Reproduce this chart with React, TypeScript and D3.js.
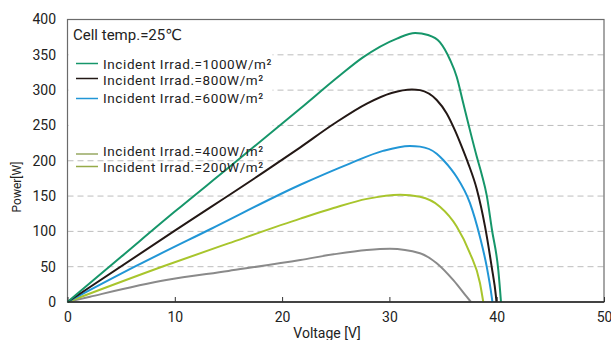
import { useEffect, useRef } from 'react';
import * as d3 from 'd3';

// values (voltage in V, power in W)
const v1000 = [0, 5, 10, 15, 21.7, 25.4, 27.5, 30.7, 32.4, 33.6, 34.7, 35.65, 36.27, 36.89, 37.51, 38.14, 38.6, 39.07, 39.55, 40.15, 40.4];
const p1000 = [0, 64, 128, 190, 274, 321, 346, 373, 381, 378, 368, 343, 319, 281, 243, 206, 181, 151, 103, 45, 0];

const v800 = [0, 10, 18.5, 21.7, 24.8, 27.9, 30.2, 32.1, 32.85, 34.41, 35.34, 36.11, 36.74, 37.35, 38.14, 38.91, 39.53, 39.93, 39.98];
const p800 = [0, 101, 186, 219, 252, 281, 296, 301, 300, 286, 267, 243, 220, 196, 160, 107, 50, 8, 0];

const v600 = [0, 6.4, 13.3, 21.7, 26.3, 29.4, 31.9, 32.85, 34.41, 35.02, 35.8, 36.27, 37.51, 38.44, 39.07, 39.53, 39.6];
const p600 = [0, 51, 103, 166, 196, 214, 221, 220, 210, 201, 187, 177, 140, 92, 50, 8, 0];

const v400 = [0, 9, 15, 21.7, 24.8, 27.9, 31.0, 32.85, 34.71, 36.27, 37.51, 38.44, 38.75];
const p400 = [0, 51, 83, 118, 133, 146, 152, 149, 135, 107, 69, 27, 0];

const v200 = [0, 2.1, 9.2, 15, 21.7, 24.8, 27.9, 30.05, 32.85, 34.41, 35.96, 37.2, 37.6];
const p200 = [0, 7.5, 31, 44, 59.5, 67.5, 73.7, 75.5, 69, 55, 31, 7.5, 0];

const xTicks = [0, 10, 20, 30, 40, 50];
const yTicks = [0, 50, 100, 150, 200, 250, 300, 350, 400];
const gridTicks = [50, 100, 150, 200, 250, 300, 350];

const series = [
  { label: 'Incident Irrad.=1000W/m²', v: v1000, p: p1000, color: '#16966a', legendColor: '#16966a' },
  { label: 'Incident Irrad.=800W/m²', v: v800, p: p800, color: '#231815', legendColor: '#231815' },
  { label: 'Incident Irrad.=600W/m²', v: v600, p: p600, color: '#2196d6', legendColor: '#2196d6' },
  { label: 'Incident Irrad.=400W/m²', v: v400, p: p400, color: '#a8c52c', legendColor: '#97a862' },
  { label: 'Incident Irrad.=200W/m²', v: v200, p: p200, color: '#8a8a8a', legendColor: '#96ab48' },
];

// legend swatch rows and text baselines, as placed in the reference
const legendLineY = [63.5, 78.5, 98.5, 154, 166.5];
const legendTextY = [68.5, 84.5, 103, 155.5, 171.5];

const FONT = 'Roboto, "DejaVu Sans", sans-serif';

export default function App() {
  const xAxisRef = useRef<SVGGElement>(null);
  const yAxisRef = useRef<SVGGElement>(null);

  const left = 67.5, right = 604, top = 19.5, bottom = 302;
  const x = d3.scaleLinear().domain([0, 50]).range([left, right]);
  const y = d3.scaleLinear().domain([0, 400]).range([bottom, top]);

  useEffect(() => {
    const gx = d3.select(xAxisRef.current);
    gx.selectAll('*').remove();
    gx.call(d3.axisBottom(x).tickValues(xTicks).tickSizeInner(-5).tickSizeOuter(0).tickPadding(10));
    gx.select('.domain').remove();
    gx.selectAll('.tick line').attr('stroke', '#333');
    gx.selectAll('.tick text').attr('font-size', 14).attr('font-family', FONT).attr('fill', '#222');

    const gy = d3.select(yAxisRef.current);
    gy.selectAll('*').remove();
    gy.call(d3.axisLeft(y).tickValues(yTicks).tickSize(0).tickPadding(11.5));
    gy.select('.domain').remove();
    gy.selectAll('.tick text').attr('font-size', 14).attr('font-family', FONT).attr('fill', '#222');
  }, []);

  const line = d3.line<[number, number]>()
    .x(d => x(d[0]))
    .y(d => y(d[1]))
    .curve(d3.curveMonotoneX);

  return (
    <svg width={611} height={340} style={{ position: 'absolute', left: 0, top: 0, background: '#fff' }}>
      {/* grid */}
      {gridTicks.map(t => (
        <line key={t} x1={left} x2={right} y1={y(t)} y2={y(t)}
          stroke="#bdbdbd" strokeWidth={1} strokeDasharray="6,4" />
      ))}

      {/* legend backdrop hides the grid */}
      <rect x={left + 1} y={top + 1} width={204} height={117} fill="#fff" />

      {/* frame */}
      <rect x={left} y={top} width={right - left} height={bottom - top} fill="none" stroke="#6b6b6b" strokeWidth={1.2} />

      {/* curves */}
      {[...series].reverse().map(s => (
        <path key={s.label}
          d={line(s.v.map((v, i) => [v, s.p[i]] as [number, number])) || ''}
          fill="none" stroke={s.color} strokeWidth={2} />
      ))}

      {/* bottom axis line */}
      <line x1={left} x2={right} y1={bottom} y2={bottom} stroke="#222" strokeWidth={1.6} />
      <g ref={xAxisRef} transform={`translate(0,${bottom})`} />
      <g ref={yAxisRef} transform={`translate(${left},0)`} />

      {/* legend */}
      <text x={73} y={40} fontSize={15} fontFamily={FONT} fill="#222">Cell temp.=25℃</text>
      {series.map((s, i) => (
        <g key={s.label}>
          <line x1={76} x2={98} y1={legendLineY[i]} y2={legendLineY[i]} stroke={s.legendColor} strokeWidth={1.5} />
          <text x={103} y={legendTextY[i]} fontSize={13.5} letterSpacing={0.6} fontFamily={FONT} fill="#222">{s.label}</text>
        </g>
      ))}

      {/* axis titles */}
      <text transform="translate(21,187) rotate(-90)" textAnchor="middle" fontSize={12} fontFamily={FONT} fill="#222">Power[W]</text>
      <text x={327} y={338} textAnchor="middle" fontSize={14} fontFamily={FONT} fill="#222">Voltage [V]</text>
    </svg>
  );
}
